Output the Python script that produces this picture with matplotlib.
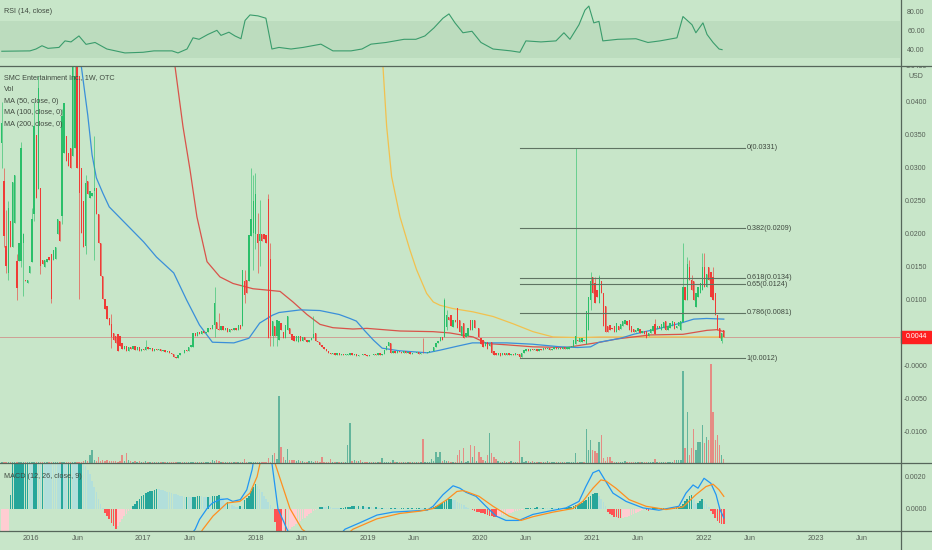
import numpy as np
import pandas as pd
import matplotlib
matplotlib.use("Agg")
import matplotlib.pyplot as plt
import matplotlib.dates as mdates
from matplotlib.lines import Line2D
from matplotlib.patches import Rectangle
from matplotlib.transforms import Bbox, TransformedBbox, blended_transform_factory

plt.rcParams['font.family'] = ['Liberation Sans Narrow', 'Liberation Sans', 'DejaVu Sans']

# -----------------------------
# Data (prices in 1e-4 USD, weekly bars)
# -----------------------------
START = '2015-09-28'

OPEN = [
    338, 280, 182, 141, 220, 180, 217, 159, 159, 159,
    187, 130, 125, 141, 157, 230, 350, 268, 270, 160,
    150, 158, 165, 170, 160, 162, 200, 220, 227, 323,
    349, 323, 330, 318, 330, 470, 439, 300, 250, 182,
    280, 255, 258, 265, 270, 230, 186, 136, 101, 91,
    72, 63, 50, 45, 48, 45, 35, 25, 30, 22,
    28, 26, 30, 24, 28, 22, 26, 24, 28, 25,
    27, 23, 26, 24, 25, 22, 24, 21, 23, 20,
    18, 14, 12, 16, 20, 19, 24, 22, 28, 28,
    50, 45, 52, 48, 53, 50, 52, 58, 56, 62,
    66, 56, 54, 60, 55, 58, 52, 56, 54, 58,
    55, 62, 61, 128, 131, 128, 197, 202, 200, 200,
    189, 200, 200, 198, 253, 162, 45, 60, 45, 40,
    65, 52, 42, 55, 58, 48, 46, 38, 36, 45,
    38, 44, 40, 36, 40, 42, 50, 38, 36, 32,
    28, 25, 22, 20, 18, 20, 17, 19, 16, 18,
    16, 16, 17, 19, 16, 18, 15, 17, 16, 18,
    17, 15, 17, 16, 18, 16, 19, 17, 18, 24,
    30, 35, 20, 22, 19, 23, 21, 20, 22, 19,
    21, 18, 20, 19, 21, 18, 20, 19, 20, 21,
    22, 23, 28, 35, 38, 44, 44, 59, 74, 77,
    59, 70, 88, 70, 46, 65, 44, 46, 70, 55,
    70, 57, 57, 42, 39, 30, 37, 30, 37, 22,
    20, 17, 19, 16, 19, 17, 19, 16, 18, 17,
    18, 18, 14, 20, 23, 25, 22, 26, 24, 26,
    23, 26, 24, 27, 25, 27, 24, 26, 28, 25,
    27, 25, 28, 26, 25, 28, 29, 34, 40, 36,
    36, 40, 34, 55, 100, 135, 125, 115, 95, 128,
    110, 91, 60, 62, 58, 61, 51, 61, 56, 60,
    63, 68, 70, 60, 56, 51, 53, 56, 50, 53,
    53, 45, 50, 53, 63, 56, 60, 55, 58, 68,
    55, 58, 60, 66, 58, 61, 54, 66, 119, 100,
    150, 130, 128, 90, 105, 110, 115, 150, 120, 150,
    143, 135, 110, 77, 57, 38, 54,
]

CLOSE = [
    368, 197, 152, 240, 180, 278, 290, 118, 187, 331,
    200, 128, 130, 152, 222, 363, 255, 421, 152, 155,
    160, 162, 160, 101, 175, 180, 222, 190, 379, 399,
    311, 303, 300, 470, 440, 300, 262, 201, 180, 277,
    260, 265, 262, 270, 230, 186, 136, 101, 87, 71,
    62, 44, 40, 35, 23, 30, 25, 30, 22, 28,
    26, 30, 24, 28, 22, 26, 24, 28, 25, 27,
    23, 26, 24, 25, 22, 24, 21, 23, 20, 18,
    14, 12, 16, 20, 19, 24, 22, 28, 32, 50,
    45, 52, 48, 53, 50, 52, 58, 56, 62, 96,
    56, 54, 60, 55, 58, 52, 56, 54, 58, 55,
    62, 56, 146, 108, 110, 199, 222, 250, 260, 187,
    200, 190, 192, 187, 43, 45, 68, 45, 70, 68,
    55, 42, 62, 75, 48, 40, 38, 45, 45, 38,
    44, 40, 36, 40, 42, 48, 38, 36, 32, 28,
    25, 22, 20, 18, 20, 17, 19, 16, 18, 16,
    18, 18, 19, 16, 18, 15, 17, 16, 18, 17,
    15, 17, 16, 18, 16, 19, 17, 18, 24, 30,
    36, 20, 22, 19, 23, 21, 20, 22, 19, 21,
    18, 20, 19, 21, 18, 20, 19, 20, 21, 22,
    23, 28, 35, 38, 44, 40, 100, 77, 70, 60,
    70, 66, 57, 52, 60, 42, 50, 57, 55, 70,
    57, 58, 44, 34, 29, 36, 26, 34, 20, 17,
    16, 19, 15, 19, 17, 19, 16, 18, 16, 19,
    16, 14, 20, 24, 25, 22, 26, 24, 26, 23,
    26, 24, 27, 25, 27, 24, 26, 28, 25, 27,
    25, 28, 26, 29, 29, 31, 39, 45, 38, 43,
    43, 38, 84, 105, 128, 110, 95, 105, 135, 110,
    60, 51, 52, 55, 56, 51, 65, 54, 63, 68,
    70, 62, 55, 51, 51, 55, 57, 50, 53, 48,
    42, 50, 56, 61, 48, 61, 57, 63, 66, 54,
    60, 65, 68, 56, 61, 66, 68, 119, 100, 155,
    130, 115, 100, 110, 120, 125, 150, 120, 140, 130,
    105, 100, 77, 55, 42, 50, 44,
]

# wicks that reach past the body (week index: price)
HIGH_WICKS = {0: 400, 1: 300, 2: 237, 3: 250, 7: 170, 9: 340, 10: 202, 14: 240,
              15: 400, 17: 440, 28: 390, 33: 480, 34: 480, 39: 290, 43: 349,
              51: 78, 67: 40, 99: 120, 101: 80, 113: 146, 116: 300, 117: 290,
              118: 293, 119: 232, 120: 252, 124: 260, 125: 187, 145: 75, 196: 42,
              206: 103, 207: 85, 267: 331, 274: 142, 276: 135, 278: 138, 304: 71,
              317: 186, 319: 165, 320: 160, 321: 138, 326: 171, 327: 171, 331: 150}
LOW_WICKS = {0: 300, 1: 180, 2: 141, 3: 130, 7: 100, 9: 150, 10: 106, 15: 220,
             18: 140, 23: 95, 28: 215, 36: 101, 39: 170, 43: 160, 51: 27, 99: 44,
             113: 95, 117: 146, 118: 177, 119: 141, 120: 152, 125: 30, 126: 30,
             128: 30, 207: 55, 241: 12, 274: 85, 335: 35}

# relative volume
VOLUME = [
    1, 1, 1, 1, 1, 1, 1, 1, 1, 1,
    1, 1, 1, 1, 1, 1, 1, 1, 1, 1,
    1, 1, 1, 1, 1, 1, 1, 1, 1, 1,
    1, 1, 1, 1, 1, 1, 1, 1, 2, 3,
    2, 8, 13, 3, 2, 6, 2, 3, 2, 3,
    2, 2, 2, 2, 1, 2, 8, 2, 10, 3,
    2, 1, 2, 1, 2, 1, 1, 2, 1, 1,
    1, 1, 1, 1, 1, 1, 1, 1, 1, 1,
    1, 1, 1, 1, 1, 1, 1, 1, 1, 1,
    1, 1, 1, 1, 1, 1, 1, 1, 3, 2,
    3, 2, 1, 1, 1, 1, 1, 1, 1, 1,
    1, 1, 1, 4, 1, 1, 1, 1, 1, 1,
    1, 1, 1, 1, 5, 1, 8, 10, 4, 67,
    16, 6, 3, 14, 3, 3, 3, 2, 3, 2,
    2, 1, 1, 2, 2, 1, 2, 2, 1, 6,
    1, 1, 1, 4, 1, 1, 1, 1, 1, 1,
    1, 18, 40, 2, 3, 2, 2, 3, 1, 1,
    1, 1, 1, 1, 1, 1, 1, 5, 1, 1,
    1, 1, 3, 1, 1, 1, 1, 1, 1, 1,
    1, 1, 1, 1, 1, 1, 24, 1, 1, 1,
    4, 2, 11, 6, 11, 2, 3, 2, 2, 1,
    1, 1, 8, 13, 2, 15, 1, 2, 18, 6,
    17, 2, 11, 6, 3, 2, 8, 30, 10, 6,
    4, 2, 1, 1, 2, 1, 1, 2, 1, 1,
    1, 22, 6, 1, 2, 2, 1, 2, 1, 1,
    1, 1, 1, 1, 2, 1, 1, 1, 1, 1,
    1, 1, 1, 1, 1, 1, 1, 10, 1, 1,
    1, 1, 34, 13, 23, 13, 12, 10, 21, 28,
    5, 2, 6, 6, 2, 1, 1, 1, 1, 1,
    2, 1, 1, 1, 1, 1, 1, 1, 1, 1,
    1, 1, 1, 1, 4, 1, 1, 1, 1, 1,
    1, 1, 1, 3, 3, 3, 3, 92, 15, 51,
    8, 15, 34, 13, 21, 21, 38, 20, 26, 23,
    99, 51, 23, 28, 18, 8, 4,
]

# MACD histogram, 1e-5 USD
MACD_HIST = [
    -220, -190, -160, -140, 85, 300, 330, 360, 390, 420,
    450, 470, 480, 460, 440, 460, 480, 470, 460, 470,
    450, 440, 430, 420, 410, 400, 390, 380, 400, 390,
    380, 390, 400, 390, 380, 370, 380, 390, 300, 260,
    235, 210, 170, 130, 100, 60, 30, 5, -26, -46,
    -67, -87, -107, -123, -105, -85, -65, -48, -32, -18,
    -6, 15, 30, 45, 60, 75, 85, 95, 100, 105,
    110, 115, 120, 118, 115, 112, 108, 104, 100, 96,
    92, 88, 84, 80, 76, 72, 74, 70, 68, 72,
    74, 76, 78, 75, 72, 70, 74, 72, 76, 78,
    80, 82, 72, 62, 36, 40, 30, 22, 15, 12,
    10, 14, 12, 55, 65, 80, 105, 130, 152, 140,
    120, 100, 80, 60, 40, 20, 5, -80, -150, -200,
    -230, -220, -260, -140, -125, -115, -107, -97, -87, -77,
    -67, -56, -46, -36, -26, -16, -8, -2, 8, 12,
    10, 8, 13, 10, 6, 5, 4, 3, 4, 5,
    8, 10, 12, 13, 14, 12, 14, 11, 13, 10,
    8, 10, 8, 6, 8, 6, 4, 6, 5, 4,
    3, 4, 3, 5, 4, 3, 4, 5, 3, 4,
    3, 4, 2, 3, 4, 3, 2, 4, 3, 4,
    5, 10, 15, 20, 27, 35, 42, 50, 56, 58,
    55, 50, 42, 35, 27, 20, 12, 5, -5, -10,
    -16, -20, -24, -28, -30, -32, -38, -44, -48, -51,
    -53, -50, -46, -42, -38, -34, -30, -26, -22, -18,
    -14, -10, -6, -3, 3, 5, 6, 4, 5, 7,
    5, 4, 6, 5, 3, 2, 4, 3, 2, 3,
    2, 3, 4, 5, 8, 12, 16, 20, 24, 28,
    34, 44, 55, 70, 80, 90, 95, 98, 80, 60,
    40, 15, -20, -32, -42, -50, -55, -57, -58, -56,
    -53, -50, -45, -40, -33, -26, -20, -14, -8, -3,
    -6, -16, -10, 2, 3, 4, 3, 4, 5, 4,
    5, 6, 5, 6, 7, 8, 15, 30, 45, 60,
    75, 85, 60, 30, 34, 44, 58, 45, 30, 12,
    -16, -36, -57, -75, -87, -95, -98,
]

# MACD / signal lines (week index, 1e-5 USD)
MACD_WEEK = [0, 46, 83, 90, 92, 95.5, 98, 101.5, 105, 107.5,
             111, 114, 116.5, 117, 120, 123, 125.7, 128.5, 132.7, 139,
             148, 159.7, 166.7, 174.6, 182, 190, 198, 200.7, 205.3, 210,
             213.2, 216, 220.7, 225.3, 230, 234.6, 240.7, 247.2, 254.6, 262.6,
             268.6, 271.8, 275.1, 277.9, 280.2, 284.4, 290.5, 298.4, 305.8, 315.1,
             318.4, 321.7, 324, 326.8, 330, 332.4, 334.2, 336]
MACD_VAL = [-400, -400, -250, -127, -67, 0, 34, 55, 60, 44,
            55, 115, 240, 280, 420, 430, 280, 0, -127, -280,
            -300, -127, -87, -40, -22, -16, -10, 14, 85, 140,
            125, 100, 75, 14, -46, -73, -73, -36, -16, 4,
            44, 135, 220, 236, 186, 95, 44, 4, -10, 14,
            95, 145, 125, 186, 155, 85, -6, -57]
SIGNAL_WEEK = [0, 46, 90, 93.6, 98.3, 104.8, 110.8, 115.5, 118.8, 120.2,
               123.9, 127.1, 134.1, 139.7, 152.7, 163.4, 174.6, 185.3, 194.6, 200.7,
               207.2, 211.8, 214.6, 216, 222.1, 228.6, 236, 241.6, 247.2, 256.5,
               265.7, 270.4, 275.1, 278.8, 281.1, 285.8, 291.9, 299.8, 309.1, 317,
               323, 327.7, 331, 333.8, 336]
SIGNAL_VAL = [-600, -500, -200, -127, -46, 34, 44, 95, 196, 280,
              350, 280, 0, -127, -250, -127, -63, -30, -16, 0,
              55, 105, 110, 105, 75, 14, -46, -73, -50, -22,
              0, 44, 125, 176, 170, 125, 55, 14, -6, 10,
              85, 135, 150, 115, 75]

# moving averages (week index, 1e-4 USD)
MA50_WEEK = [0, 30, 37, 40, 42, 44, 47, 50, 66, 72, 80, 86, 92, 98, 108, 115, 120, 126,
             129, 139, 148, 157, 162, 165, 169, 173, 177, 185, 198, 204, 212, 219, 226,
             235, 247, 260, 268, 274, 278, 288, 294, 310, 316, 322, 328, 336]
MA50_VAL = [900, 560, 454, 380, 320, 285, 262, 241, 188, 165, 141, 100, 62, 36, 35, 42,
            65, 77, 81, 85, 84, 78, 72, 68, 53, 39, 27, 23, 20, 24, 30, 35, 35, 35, 33,
            29, 28, 29, 36, 42, 48, 60, 65, 71, 72, 71]
MA100_WEEK = [0, 45.7, 69, 78.3, 80.6, 84.3, 87.6, 90.8, 95.5, 101.5,
              107.6, 116.9, 123.4, 129.5, 135.5, 142, 148.1, 154.1, 163.4, 169.9,
              185.3, 200.7, 208.6, 219.3, 225.8, 235.1, 247.2, 263, 270.4, 278.4,
              286.3, 301.6, 317, 328.2, 332.8, 336]
MA100_VAL = [900, 700, 560, 480, 454, 363, 297, 226, 158, 135,
             125, 117, 115, 113, 97, 78, 63, 58, 56, 57,
             53, 52, 50, 44, 34, 32, 29, 28, 32, 36,
             41, 47, 48, 54, 55, 52]
MA200_WEEK = [0, 138.8, 171.3, 177.4, 179.1, 181.4, 185.3, 189.9, 193, 197.7, 200.8,
              203.9, 209.9, 219.3, 228.6, 237.9, 247.2, 256.5, 269.1, 278.4, 293.7, 336]
MA200_VAL = [1800, 750, 540, 453, 363, 287, 226, 176, 146, 110, 97,
             92, 87, 82, 75, 64, 52, 44, 43, 44, 44, 44]

# RSI (week index, value)
RSI_WEEK = [0, 13.1, 15.9, 18.7, 21.5, 26.6, 29.4, 32.2, 35.9, 39.2,
            43.4, 48.9, 57.3, 65.7, 70.8, 79.2, 82, 86.2, 89, 91.8,
            95.9, 100.1, 102, 105.7, 108.5, 111.3, 113.2, 115.5, 119.2, 122.9,
            125.7, 129, 134.6, 140.2, 148.5, 154.1, 162.5, 167.6, 171.8, 178.8,
            187.2, 192.7, 196.9, 201.1, 205.3, 208.1, 210.9, 214.6, 218.8, 223,
            228.6, 236.9, 241.1, 243.9, 250.9, 257.9, 261.6, 264.4, 268.6, 271.4,
            273.2, 275.5, 277.9, 279.7, 286.7, 295.1, 300.7, 306.3, 314.2, 317,
            321.2, 323, 326.3, 328.2, 331, 333.8, 335.2]
RSI_VAL = [37.6, 38, 40, 43.5, 40.7, 41.7, 48.7, 47.6, 54, 45,
           47, 40, 35.8, 36.5, 38, 38, 35.8, 40, 52, 50.4,
           55.6, 60, 54.6, 58, 54, 51, 70.6, 76.5, 75.5, 73,
           40, 41.7, 40, 41.7, 45.2, 38, 38, 40, 45.2, 47,
           50.4, 50.4, 54, 62.6, 73, 77.6, 68, 57.4, 59, 47,
           40, 38, 36.5, 48.7, 47.6, 48.7, 57.4, 50.4, 66, 81.7,
           86, 68, 69.6, 48.7, 50.4, 51, 47, 48.7, 52, 74.8,
           66, 57.4, 68, 55.6, 47, 40, 39.3]

FIB_LEVELS = [0, 0.382, 0.618, 0.65, 0.786, 1]
FIB_PRICES = [0.0331, 0.0209, 0.0134, 0.0124, 0.0081, 0.0012]
FIB_FROM_WEEK = 241
FIB_TO_WEEK = 346
LAST_PRICE = 0.0044

PRICE_TICKS = [0.04, 0.035, 0.03, 0.025, 0.02, 0.015, 0.01, 0.0, -0.005, -0.01]
PRICE_LABELS = ['0.0400', '0.0350', '0.0300', '0.0250', '0.0200', '0.0150', '0.0100',
                '-0.0000', '-0.0050', '-0.0100']
RSI_TICKS = [80, 60, 40]
MACD_TICKS = [0.002, 0.0]
YEARS = [2016, 2017, 2018, 2019, 2020, 2021, 2022, 2023]

# -----------------------------
# Prepare
# -----------------------------
n = len(CLOSE)
assert len(OPEN) == n and len(VOLUME) == n and len(MACD_HIST) == n

start = pd.Timestamp(START)
def wdate(w):
    return mdates.date2num(start + pd.to_timedelta(np.asarray(w, dtype=float) * 7, unit='D'))

xd = wdate(np.arange(n))
o = np.array(OPEN) * 1e-4
c = np.array(CLOSE) * 1e-4
hi = np.maximum(o, c)
lo = np.minimum(o, c)
for k, v in HIGH_WICKS.items():
    hi[k] = max(hi[k], v * 1e-4)
for k, v in LOW_WICKS.items():
    lo[k] = min(lo[k], v * 1e-4)
up = c >= o

BG = '#c8e6c9'
GREEN = '#2abf69'
RED = '#ef3b36'
TXT = '#404a40'
AX_TXT = '#555f55'

W, H = 932, 550
def rect(x0, y0, x1, y1):
    return [x0 / W, 1 - y1 / H, (x1 - x0) / W, (y1 - y0) / H]

fig = plt.figure(figsize=(W / 100, H / 100), dpi=100, facecolor=BG)
ax_rsi = fig.add_axes(rect(0, 0, 900, 66))
ax_vol = fig.add_axes(rect(0, 66, 900, 463))
ax_main = fig.add_axes(rect(0, 66, 900, 463))
ax_macd = fig.add_axes(rect(0, 463, 900, 531))

x_left = xd[0] - 5.9
x_right = xd[0] + 418 * 7
for ax in (ax_rsi, ax_vol, ax_main, ax_macd):
    ax.set_xlim(x_left, x_right)
    ax.set_facecolor('none')
    for s in ax.spines.values():
        s.set_visible(False)
    ax.tick_params(axis='x', length=0, labelbottom=False)
    ax.tick_params(axis='y', length=0)

def right_ticks(ax, ticks, labels):
    ax.yaxis.tick_right()
    ax.set_yticks(ticks)
    ax.set_yticklabels(labels)
    ax.tick_params(axis='y', length=0, pad=11.5, labelsize=5.0, labelcolor=AX_TXT)
    for lab in ax.get_yticklabels():
        lab.set_horizontalalignment('center')

# -----------------------------
# RSI pane
# -----------------------------
ax_rsi.set_ylim(21.8, 92.5)
ax_rsi.axhspan(30, 70, color='#bcdcbe', lw=0)
ax_rsi.plot(wdate(RSI_WEEK), RSI_VAL, color='#3a9c6c', lw=0.8)
right_ticks(ax_rsi, RSI_TICKS, ['80.00', '60.00', '40.00'])

# -----------------------------
# Volume overlay
# -----------------------------
ax_vol.set_ylim(0, 397)
ax_vol.bar(xd, VOLUME, width=4.5, color=np.where(up, '#63b59c', '#e58c84'), lw=0)
ax_vol.set_yticks([])

# -----------------------------
# Main price pane
# -----------------------------
ax_main.set_ylim(-0.0147, 0.04545)
ax_main.axhline(LAST_PRICE, color='#cf9f95', lw=0.7, zorder=1)

ax_main.plot(wdate(MA200_WEEK), np.array(MA200_VAL) * 1e-4, color='#f2c14e', lw=0.9, zorder=2)
ax_main.plot(wdate(MA100_WEEK), np.array(MA100_VAL) * 1e-4, color='#d9534a', lw=0.9, zorder=2)
ax_main.plot(wdate(MA50_WEEK), np.array(MA50_VAL) * 1e-4, color='#3a8fd9', lw=0.9, zorder=2)

cols = np.where(up, GREEN, RED)
ax_main.vlines(xd, lo, hi, colors=cols, lw=0.6, alpha=0.7, zorder=3)
body = np.maximum(np.abs(c - o), 0.00012)
ax_main.bar(xd, body, bottom=np.minimum(o, c), width=4.3, color=cols, lw=0, zorder=4)

f0, f1 = wdate([FIB_FROM_WEEK, FIB_TO_WEEK])
for lvl, p in zip(FIB_LEVELS, FIB_PRICES):
    ax_main.plot([f0, f1], [p, p], color='#5f7462', lw=0.8, zorder=5)
    ax_main.text(f1 + 4, p, f"{lvl:g}({p:.4f})", fontsize=5.2, color=TXT,
                 va='center', ha='left', zorder=6)

right_ticks(ax_main, PRICE_TICKS, PRICE_LABELS)
blend = blended_transform_factory(ax_main.transAxes, ax_main.transData)
ax_main.add_patch(Rectangle((1.001, LAST_PRICE - 0.00091), 0.033, 0.00182,
                            transform=blend, color='#ff1f1f', clip_on=False, zorder=10))
ax_main.text(1 + 16 / 900, LAST_PRICE, f"{LAST_PRICE:.4f}", transform=blend,
             ha='center', va='center', fontsize=5.0, color='white', clip_on=False, zorder=11)
top_lab = ax_main.text(1 + 16 / 900, 0.04545, '0.0450', transform=blend, ha='center',
                       va='center', fontsize=5.0, color=AX_TXT)
top_lab.set_clip_box(TransformedBbox(Bbox([[1.0, 0.0], [1.05, 1.0]]), ax_main.transAxes))
top_lab.set_clip_on(True)
ax_main.text(1 + 16 / 900, 0.0438, 'USD', transform=blend, ha='center', va='center',
             fontsize=5.0, color=AX_TXT, clip_on=False)

# -----------------------------
# MACD pane
# -----------------------------
hist = np.array(MACD_HIST) * 1e-5
prev = np.r_[hist[0], hist[:-1]]
hcol = np.where(hist >= 0,
                np.where(hist >= prev, '#26a69a', '#b2dfdb'),
                np.where(hist < prev, '#ff5252', '#ffcdd2'))
ax_macd.set_ylim(-0.00138, 0.0028)
ax_macd.bar(xd, hist, width=5.4, color=hcol, lw=0)
ax_macd.plot(wdate(MACD_WEEK), np.array(MACD_VAL) * 1e-5, color='#2196f3', lw=0.9)
ax_macd.plot(wdate(SIGNAL_WEEK), np.array(SIGNAL_VAL) * 1e-5, color='#ff8f1f', lw=0.9)
right_ticks(ax_macd, MACD_TICKS, ['0.0020', '0.0000'])

xt, xl = [], []
for y in YEARS:
    xt += [mdates.date2num(pd.Timestamp(f'{y}-01-01')), mdates.date2num(pd.Timestamp(f'{y}-06-01'))]
    xl += [str(y), 'Jun']
ax_macd.set_xticks(xt)
ax_macd.set_xticklabels(xl)
ax_macd.tick_params(axis='x', length=0, pad=3, labelbottom=True, labelsize=5.3, labelcolor=AX_TXT)

# -----------------------------
# Pane separators and legends
# -----------------------------
for yy in (66, 463, 531):
    fig.add_artist(Line2D([0, 1], [1 - yy / H, 1 - yy / H], transform=fig.transFigure,
                          color='#56665a', lw=0.9))
fig.add_artist(Line2D([900.5 / W, 900.5 / W], [0, 1], transform=fig.transFigure,
                      color='#56665a', lw=0.9))

def label(x, y, s):
    fig.text(x / W, 1 - y / H, s, fontsize=5.2, color=TXT, va='center', ha='left')

label(4, 11.5, 'RSI (14, close)')
label(4, 78, 'SMC Entertainment Inc., 1W, OTC')
label(4, 90, 'Vol')
label(4, 101.5, 'MA (50, close, 0)')
label(4, 113, 'MA (100, close, 0)')
label(4, 125, 'MA (200, close, 0)')
label(4, 476, 'MACD (12, 26, close, 9)')

fig.savefig('out.png', dpi=100, facecolor=BG)
